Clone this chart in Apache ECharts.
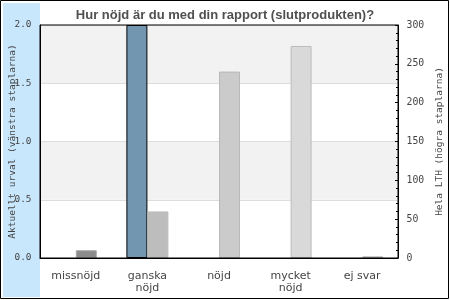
<!DOCTYPE html>
<html>
<head>
<meta charset="utf-8">
<script src="https://cdn.jsdelivr.net/npm/echarts@6/dist/echarts.min.js"></script>
<style>html,body{margin:0;padding:0;background:#fff}#c{width:450px;height:300px}</style>
</head>
<body>
<div id="c"></div>
<script>
var titleText = 'Hur nöjd är du med din rapport (slutprodukten)?';
var categories = ['missnöjd', 'ganska\nnöjd', 'nöjd', 'mycket\nnöjd', 'ej svar'];
var currentValues = [0, 2, 0, 0, 0];
var lthValues = [10, 60, 240, 273, 2];
var leftTicks = [0, 0.5, 1, 1.5, 2];
var rightTicks = [0, 50, 100, 150, 200, 250, 300];
var leftName = 'Aktuellt urval (vänstra staplarna)';
var rightName = 'Hela LTH (högra staplarna)';

var lthFill = ['#8c8c8c', '#bdbdbd', '#cbcbcb', '#d9d9d9', '#8c8c8c'];
var lthBorder = ['#aaaaaa', '#bdbdbd', '#b8b8b8', '#bcbcbc', '#aaaaaa'];

var chart = echarts.init(document.getElementById('c'), null, {renderer: 'canvas'});
var mono = 'DejaVu Sans Mono';
chart.setOption({
  animation: false,
  backgroundColor: '#ffffff',
  graphic: [
    {type: 'rect', z: -10, shape: {x: 3, y: 3, width: 37, height: 294}, style: {fill: '#c9e7fc'}},
    {type: 'rect', z: 100, shape: {x: 0.5, y: 0.5, width: 448, height: 298}, style: {fill: 'none', stroke: '#000', lineWidth: 1}}
  ],
  title: {
    text: titleText, left: 'center', top: 4,
    textStyle: {fontFamily: 'Liberation Sans', fontWeight: 'bold', fontSize: 13, color: '#505050'}
  },
  grid: {left: 40, top: 25, right: 52, bottom: 42, containLabel: false, outerBoundsMode: 'none', show: true, borderColor: '#000', borderWidth: 1, backgroundColor: 'transparent', z: 5},
  xAxis: {
    type: 'category', data: categories,
    axisLine: {lineStyle: {color: '#000', width: 1}},
    axisTick: {show: false},
    axisLabel: {fontFamily: 'DejaVu Sans', fontSize: 11, color: '#444', margin: 12, lineHeight: 12}
  },
  yAxis: [
    {
      type: 'value', min: leftTicks[0], max: leftTicks[leftTicks.length - 1], interval: 0.5,
      name: leftName, nameLocation: 'middle', nameGap: 22.5, nameRotate: 90, nameMoveOverlap: false,
      nameTextStyle: {fontFamily: mono, fontSize: 9.5, color: '#444'},
      axisLine: {show: true, lineStyle: {color: '#000'}},
      axisTick: {show: false},
      axisLabel: {fontFamily: mono, fontSize: 9.4, color: '#444', margin: 8.5, formatter: function (v) { return v.toFixed(1); }},
      splitLine: {show: true, lineStyle: {color: '#dddddd'}},
      splitArea: {show: true, areaStyle: {color: ['#ffffff', '#f2f2f2']}}
    },
    {
      type: 'value', min: rightTicks[0], max: rightTicks[rightTicks.length - 1], interval: 50,
      name: rightName, nameLocation: 'middle', nameGap: 37, nameRotate: 90, nameMoveOverlap: false,
      nameTextStyle: {fontFamily: mono, fontSize: 9.5, color: '#444'},
      axisLine: {show: true, lineStyle: {color: '#000'}},
      axisTick: {show: true, inside: true, length: 3, lineStyle: {color: '#000'}},
      minorTick: {show: true, splitNumber: 5, length: 2, lineStyle: {color: '#000'}},
      axisLabel: {fontFamily: mono, fontSize: 9.8, color: '#444', margin: 8.5},
      splitLine: {show: false}
    }
  ],
  series: [
    {
      type: 'bar', yAxisIndex: 0, barWidth: 21, barGap: '0%',
      data: currentValues.map(function (v) { return v === 0 ? '-' : v; }),
      itemStyle: {color: '#7396b0', borderColor: '#000', borderWidth: 1}
    },
    {
      type: 'bar', yAxisIndex: 1, barWidth: 21,
      data: lthValues.map(function (v, i) {
        return {value: v, itemStyle: {color: lthFill[i], borderColor: lthBorder[i], borderWidth: 1}};
      })
    }
  ]
});
</script>
</body>
</html>
